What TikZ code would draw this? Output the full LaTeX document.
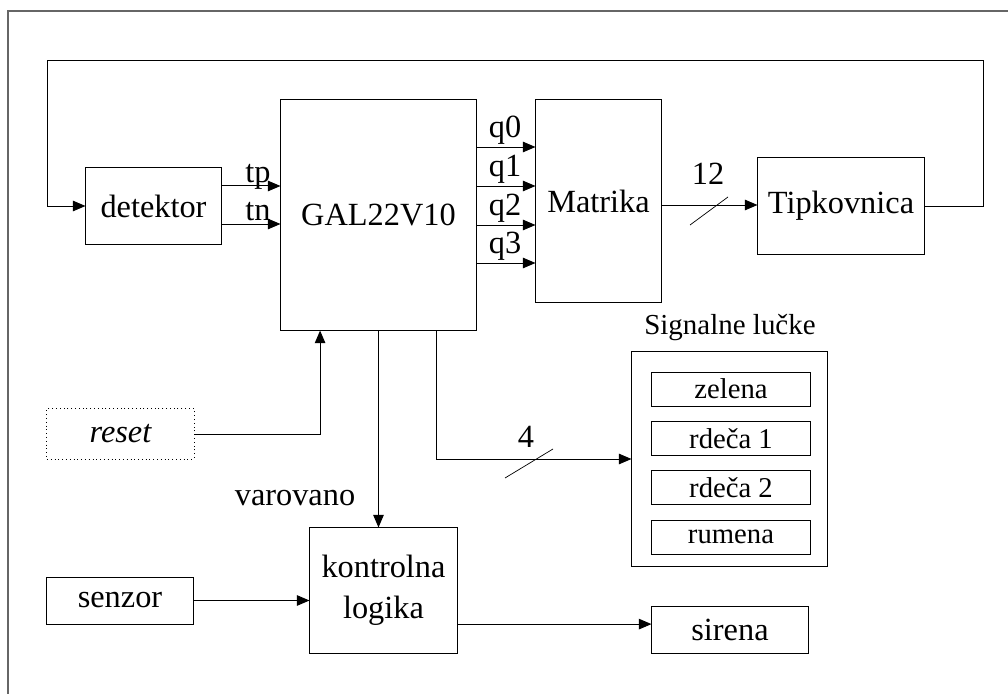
\documentclass[tikz,border=0pt]{standalone}
\usepackage{fontspec}
\setmainfont{Liberation Serif}
\usetikzlibrary{positioning, arrows.meta}

\tikzset{
  blok/.style={draw, line width=0.7pt, inner sep=0pt, font=\fontsize{23}{29}\selectfont},
  lucka/.style={blok, minimum width=3.95cm, minimum height=0.85cm, font=\fontsize{20.4}{24}\selectfont},
  arr/.style={-{Triangle[length=9pt,width=7.5pt]}, line width=0.7pt},
  oznaka/.style={inner sep=0pt, font=\fontsize{23}{29}\selectfont},
  frame/.style={line width=1.4pt, black!60}
}

\begin{document}
\begin{tikzpicture}[x=0.025cm, y=-0.025cm]
\useasboundingbox (0,0) rectangle (1008,694);
\draw[frame] (1008,11) -- (8,11) -- (8,694);

% bloki
\node[blok, minimum width=3.375cm, minimum height=1.9cm] (det) at (153.5,206) {detektor};
\node[blok, minimum width=4.875cm, minimum height=5.75cm] (gal) at (378.5,215) {GAL22V10};
\node[blok, minimum width=3.125cm, minimum height=5.05cm] (mat) at (598.5,201) {Matrika};
\node[blok, minimum width=4.15cm, minimum height=2.4cm] (tip) at (841,206) {Tipkovnica};
\node[blok, dotted, minimum width=3.675cm, minimum height=1.25cm] (reset) at (120.5,434) {\itshape reset};
\node[blok, minimum width=3.65cm, minimum height=1.175cm] (senz) at (120,600.5) {senzor};
\node[blok, align=center, minimum width=3.675cm, minimum height=3.125cm] (kon) at (383.5,590.5) {kontrolna\\logika};
\node[blok, minimum width=3.9cm, minimum height=1.175cm] (sir) at (730,629.5) {sirena};

% signalne lucke
\node[blok, minimum width=4.875cm, minimum height=5.35cm] (sig) at (729.5,459) {};
\node[oznaka, font=\fontsize{20.6}{24}\selectfont] (sigt) at (730,328) {Signalne lučke};
\node[lucka] (zel) at (731,389) {zelena};
\node[lucka, below=0.36cm of zel] (rd1) {rdeča 1};
\node[lucka, below=0.36cm of rd1] (rd2) {rdeča 2};
\node[lucka, below=0.36cm of rd2] (rum) {rumena};

% povratna zanka
\coordinate (fb) at (47,60);
\draw[arr] (tip.east) -- ++(59,0) |- (fb) |- (det.west);

% tp, tn
\draw[arr] ([yshift=0.5cm]det.east) coordinate (tp0) -- (tp0 -| gal.west);
\draw[arr] ([yshift=-0.45cm]det.east) coordinate (tn0) -- (tn0 -| gal.west);
\node[oznaka, anchor=base] (tp) at (258,183) {tp};
\node[oznaka, anchor=base] (tn) at (258,221) {tn};

% izhodi q
\foreach \y/\q in {147/q0, 186/q1, 225/q2, 263/q3} {
  \draw[arr] (gal.east |- 0,\y) -- (mat.west |- 0,\y);
  \node[oznaka, anchor=base] (\q) at (505,\y-9) {\q};
}

% matrika -> tipkovnica
\draw[arr] ([yshift=-0.1cm]mat.east) coordinate (m0) -- (m0 -| tip.west);
\draw[line width=0.5pt] (690,225) -- (728,197);
\node[oznaka] (n12) at (708,174) {12};

% reset
\draw[arr] (reset.east) -| ([xshift=-1.46cm]gal.south);

% varovano
\draw[arr] (gal.south) -- (gal.south |- kon.north);
\node[oznaka] (var) at (295,498) {varovano};

% lucke
\draw[arr] ([xshift=1.46cm]gal.south) |- (sig.west);
\draw[line width=0.5pt] (505,478) -- (553,449);
\node[oznaka] (n4) at (526,437) {4};

% senzor, sirena
\draw[arr] (senz.east) -- (senz.east -| kon.west);
\draw[arr] ([yshift=-0.84cm]kon.east) coordinate (k0) -- (k0 -| sir.west);
\end{tikzpicture}
\end{document}
